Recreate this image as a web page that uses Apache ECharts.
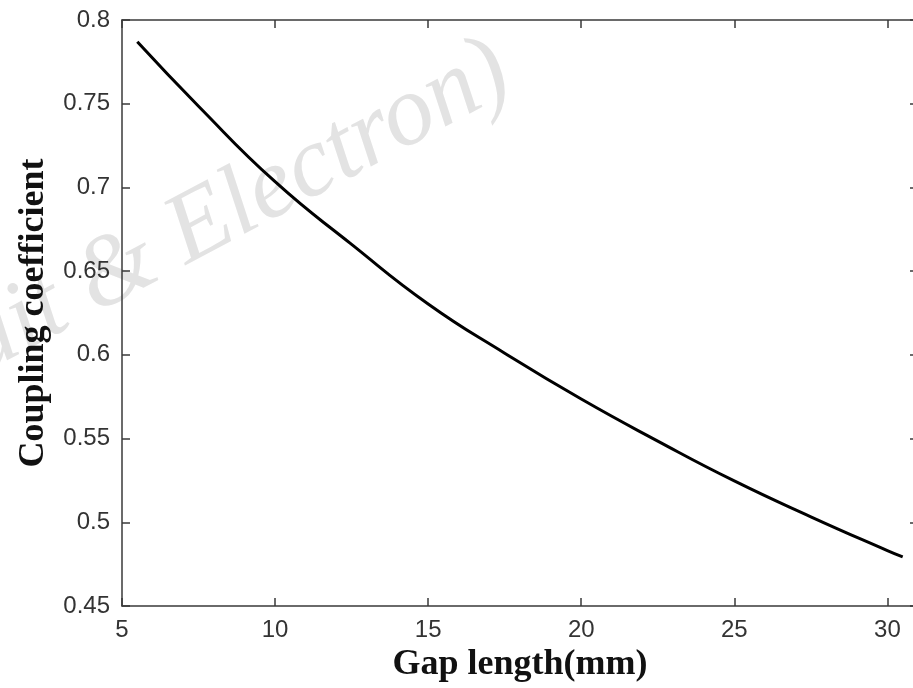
<!DOCTYPE html>
<html>
<head>
<meta charset="utf-8">
<script src="https://cdn.jsdelivr.net/npm/echarts@6/dist/echarts.min.js"></script>
<style>html,body{margin:0;padding:0;background:#fff;overflow:hidden;}#c{width:913px;height:688px;}</style>
</head>
<body>
<div id="c"></div>
<script>
const gapLength = [5.5, 7.5, 10, 12.5, 15, 17.5, 20, 22.5, 25, 27.5, 30, 30.5];
const couplingCoeff = [0.7870, 0.7485, 0.7034, 0.6660, 0.6304, 0.6010, 0.5736, 0.5485, 0.5247, 0.5033, 0.4831, 0.4793];
const xTicks = [5, 10, 15, 20, 25, 30];
const yTicks = [0.45, 0.5, 0.55, 0.6, 0.65, 0.7, 0.75, 0.8];
const xTitle = 'Gap length(mm)';
const yTitle = 'Coupling coefficient';
const watermark = '(Circuit & Electron)';

const axisColor = '#3a3a3a';
const chart = echarts.init(document.getElementById('c'));
const lineStyle = { color: axisColor, width: 1.5 };
const labelStyle = { fontFamily: 'Liberation Sans, Arial', fontSize: 24, color: '#333' };
const nameStyle = { fontFamily: 'Liberation Serif, Times New Roman', fontWeight: 'bold', fontSize: 36, color: '#111' };

chart.setOption({
  animation: false,
  grid: { left: 122, top: 20, width: 796, height: 586, containLabel: false, outerBoundsMode: 'none' },
  graphic: [{
    type: 'text', x: 527, y: 110, rotation: 0.49, z: -10, silent: true,
    style: { text: watermark, fontFamily: 'Liberation Serif, Times New Roman', fontStyle: 'italic',
             fontSize: 100, fill: '#e3e3e3', align: 'right', verticalAlign: 'bottom' }
  }],
  xAxis: [{
    type: 'value', min: 5, max: 31, interval: 5, position: 'bottom',
    axisLine: { show: true, lineStyle }, splitLine: { show: false },
    axisTick: { show: true, inside: true, length: 8, lineStyle },
    axisLabel: Object.assign({ margin: 12, formatter: v => xTicks.includes(v) ? String(v) : '' }, labelStyle),
    name: xTitle, nameLocation: 'middle', nameGap: 28, nameTextStyle: nameStyle
  }, {
    type: 'value', min: 5, max: 31, interval: 5, position: 'top',
    axisLine: { show: true, lineStyle }, splitLine: { show: false },
    axisTick: { show: true, inside: true, length: 8, lineStyle },
    axisLabel: { show: false }
  }],
  yAxis: [{
    type: 'value', min: 0.45, max: 0.8, interval: 0.05, position: 'left',
    axisLine: { show: true, lineStyle }, splitLine: { show: false },
    axisTick: { show: true, inside: true, length: 8, lineStyle },
    axisLabel: Object.assign({ margin: 12, formatter: v => {
      const t = yTicks.find(k => Math.abs(k - v) < 1e-6); return t === undefined ? '' : String(t); } }, labelStyle),
    name: yTitle, nameLocation: 'middle', nameGap: 70, nameTextStyle: nameStyle
  }, {
    type: 'value', min: 0.45, max: 0.8, interval: 0.05, position: 'right',
    axisLine: { show: true, lineStyle }, splitLine: { show: false },
    axisTick: { show: true, inside: true, length: 8, lineStyle },
    axisLabel: { show: false }
  }],
  series: [{
    type: 'line', xAxisIndex: 0, yAxisIndex: 0, smooth: true, showSymbol: false,
    lineStyle: { color: '#000', width: 3 },
    data: gapLength.map((x, i) => [x, couplingCoeff[i]])
  }]
});
</script>
</body>
</html>
